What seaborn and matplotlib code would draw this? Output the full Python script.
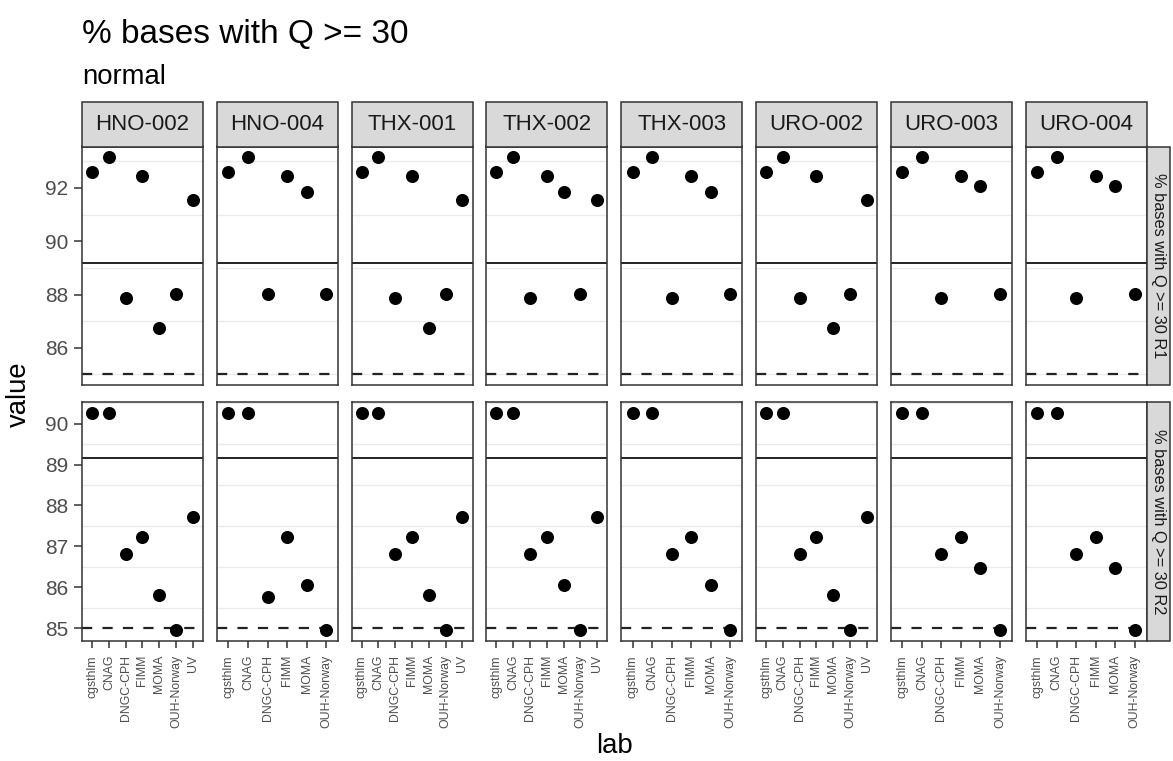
import matplotlib
matplotlib.use("Agg")
import matplotlib.pyplot as plt
from matplotlib.patches import Rectangle
import pandas as pd
import seaborn as sns

# ---- data -------------------------------------------------------------
samples = ["HNO-002", "HNO-004", "THX-001", "THX-002",
           "THX-003", "URO-002", "URO-003", "URO-004"]
labs = ["cgsthlm", "CNAG", "DNGC-CPH", "FIMM", "MOMA", "OUH-Norway", "UV"]
reads = ["% bases with Q >= 30 R1", "% bases with Q >= 30 R2"]

# Read 1 values per lab, one entry per sample (None = lab did not report)
r1_cgsthlm = [92.60, 92.60, 92.60, 92.60, 92.60, 92.60, 92.60, 92.60]
r1_cnag = [93.15, 93.15, 93.15, 93.15, 93.15, 93.15, 93.15, 93.15]
r1_dngc = [87.87, 88.03, 87.87, 87.87, 87.87, 87.87, 87.87, 87.87]
r1_fimm = [92.45, 92.45, 92.45, 92.45, 92.45, 92.45, 92.45, 92.45]
r1_moma = [86.75, 91.84, 86.76, 91.84, 91.84, 86.76, 92.08, 92.08]
r1_ouh = [88.01, 88.01, 88.01, 88.01, 88.01, 88.01, 88.01, 88.01]
r1_uv = [91.56, None, 91.56, 91.56, None, 91.56, None, None]

# Read 2 values per lab
r2_cgsthlm = [90.26, 90.26, 90.26, 90.26, 90.26, 90.26, 90.26, 90.26]
r2_cnag = [90.26, 90.26, 90.26, 90.26, 90.26, 90.26, 90.26, 90.26]
r2_dngc = [86.82, 85.76, 86.82, 86.82, 86.82, 86.82, 86.82, 86.82]
r2_fimm = [87.23, 87.23, 87.23, 87.23, 87.23, 87.23, 87.23, 87.23]
r2_moma = [85.80, 86.05, 85.80, 86.05, 86.05, 85.80, 86.48, 86.48]
r2_ouh = [84.95, 84.95, 84.95, 84.95, 84.95, 84.95, 84.95, 84.95]
r2_uv = [87.72, None, 87.72, 87.72, None, 87.72, None, None]

# reference thresholds
upper_line = 89.17
lower_line = 85.0

y_major = [[86, 88, 90, 92], [85, 86, 87, 88, 89, 90]]
y_minor = [[85, 87, 89, 91, 93], [85.5, 86.5, 87.5, 88.5, 89.5, 90.5]]

# ---- long table -------------------------------------------------------
series = {
    reads[0]: [r1_cgsthlm, r1_cnag, r1_dngc, r1_fimm, r1_moma, r1_ouh, r1_uv],
    reads[1]: [r2_cgsthlm, r2_cnag, r2_dngc, r2_fimm, r2_moma, r2_ouh, r2_uv],
}
rows = []
for read, per_lab in series.items():
    for lab, vals in zip(labs, per_lab):
        for sample, v in zip(samples, vals):
            if v is not None:
                rows.append({"read": read, "sample": sample, "lab": lab, "value": v})
df = pd.DataFrame(rows)

# ---- style ------------------------------------------------------------
sns.set_theme(style="white")
plt.rcParams["font.family"] = ["Liberation Sans", "DejaVu Sans"]

W, H = 1173, 761
fig, axes = plt.subplots(2, 8, figsize=(W / 100, H / 100), dpi=100)
fig.subplots_adjust(left=82 / W, right=1146.5 / W, top=1 - 146.5 / H,
                    bottom=1 - 641 / H, wspace=0.114, hspace=0.0712)

border = "#333333"
strip_h = 44 / 238.75
strip_w = 23.5 / 121

for r, read in enumerate(reads):
    rd = df[df["read"] == read]
    lo = min(rd["value"].min(), lower_line, upper_line)
    hi = max(rd["value"].max(), lower_line, upper_line)
    pad = 0.05 * (hi - lo)
    for c, sample in enumerate(samples):
        ax = axes[r, c]
        sub = rd[rd["sample"] == sample]
        order = [l for l in labs if l in set(sub["lab"])]
        ax.axhline(upper_line, color="#111111", lw=1.3, zorder=1)
        ax.axhline(lower_line, color="#222222", lw=1.6, ls=(0, (4.6, 4.6)), zorder=1)
        sns.stripplot(data=sub, x="lab", y="value", order=order, jitter=False,
                      color="black", size=9.4, linewidth=0, ax=ax, zorder=3)
        ax.set_xlim(-0.6, len(order) - 0.4)
        ax.set_ylim(lo - pad, hi + pad)
        ax.set_yticks(y_major[r])
        ax.set_yticks(y_minor[r], minor=True)
        ax.grid(False)
        ax.grid(which="minor", axis="y", color="#EBEBEB", lw=1.0, zorder=0)
        ax.set_axisbelow(True)
        ax.set_xlabel("")
        ax.set_ylabel("")
        for sp in ax.spines.values():
            sp.set_visible(True)
            sp.set_color(border)
            sp.set_linewidth(1.1)
        ax.tick_params(which="minor", length=0)
        ax.tick_params(axis="y", which="major", length=6, width=1.1, color=border,
                       labelsize=15, labelcolor="#4D4D4D", pad=4, left=(c == 0),
                       labelleft=(c == 0))
        if r == 1:
            ax.tick_params(axis="x", length=5, width=1.1, color=border, bottom=True,
                           labelbottom=True, labelrotation=90, labelsize=8.8,
                           labelcolor="#4D4D4D", pad=5)
        else:
            ax.tick_params(axis="x", bottom=False, labelbottom=False)

        # column strips
        if r == 0:
            ax.add_patch(Rectangle((0, 1), 1, strip_h, transform=ax.transAxes,
                                   facecolor="#D9D9D9", edgecolor=border, lw=1.1,
                                   clip_on=False, zorder=5))
            ax.text(0.5, 1 + strip_h / 2, sample, transform=ax.transAxes,
                    ha="center", va="center", fontsize=16, color="#1A1A1A",
                    zorder=6)
        # row strips
        if c == len(samples) - 1:
            ax.add_patch(Rectangle((1, 0), strip_w, 1, transform=ax.transAxes,
                                   facecolor="#D9D9D9", edgecolor=border, lw=1.1,
                                   clip_on=False, zorder=5))
            ax.text(1 + strip_w / 2, 0.5, read, transform=ax.transAxes,
                    ha="center", va="center", rotation=270, fontsize=11.8,
                    color="#1A1A1A", zorder=6)

fig.text(82 / W, 1 - 43 / H, "% bases with Q >= 30", fontsize=24,
         ha="left", va="baseline", color="black")
fig.text(82 / W, 1 - 84 / H, "normal", fontsize=19.8,
         ha="left", va="baseline", color="black")
fig.text(19 / W, 1 - 394 / H, "value", fontsize=19.8, rotation=90,
         ha="center", va="center", color="black")
fig.text(614 / W, 1 - 746 / H, "lab", fontsize=19.8,
         ha="center", va="center", color="black")

fig.savefig("out.png", dpi=100, facecolor="white")
